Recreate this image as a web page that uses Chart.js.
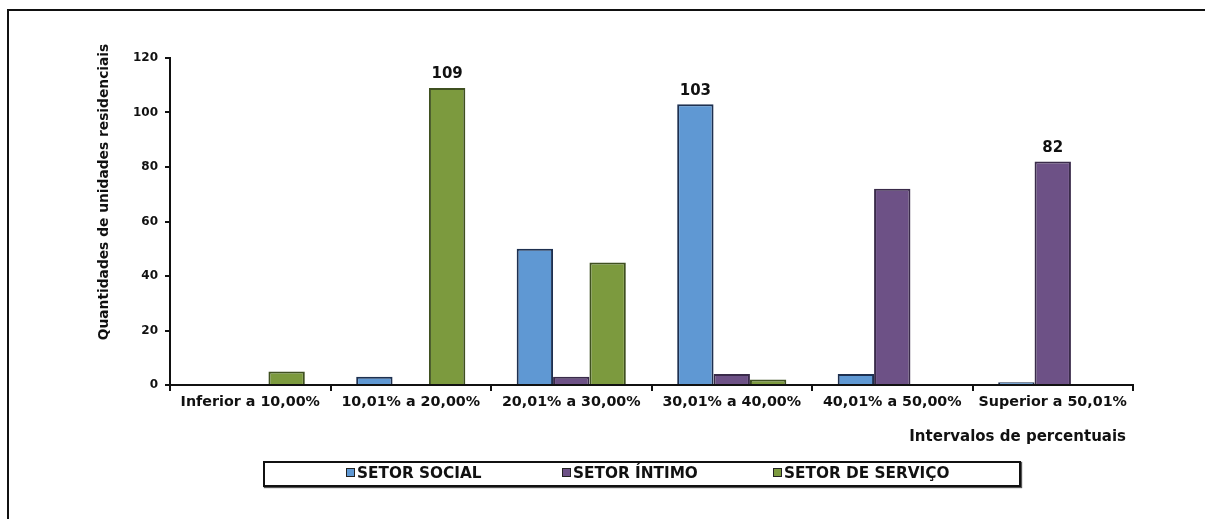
<!DOCTYPE html>
<html>
<head>
<meta charset="utf-8">
<script src="https://cdn.jsdelivr.net/npm/chart.js@4.4.1/dist/chart.umd.min.js"></script>
<style>
html, body { margin: 0; padding: 0; background: #fff; }
#wrap { position: relative; width: 1205px; height: 519px; overflow: hidden; }
#frame {
    position: absolute; left: 7px; top: 9px; width: 1300px; height: 600px;
    border-top: 2px solid #111; border-left: 2px solid #111;
}
#chart { position: absolute; left: 0; top: 0; }
#legend {
    position: absolute; left: 263px; top: 461px; width: 754px; height: 22px;
    border: 2px solid #111; box-shadow: 1px 1px 1px #555;
    font-family: 'DejaVu Sans', sans-serif;
    font-weight: bold; font-size: 15.3px; color: #111;
}
#legend span.item { position: absolute; top: 1px; white-space: nowrap; }
#legend span.box {
    display: inline-block; width: 7px; height: 7px; margin-right: 2px;
    border: 1.5px solid #222; vertical-align: 1px;
}
</style>
</head>
<body>
<div id="wrap">
    <div id="frame"></div>
    <canvas id="chart" width="1205" height="519"></canvas>
    <div id="legend"></div>
</div>
<script>
(function() {
    'use strict';

    // Data
    const categories = ['Inferior a 10,00%', '10,01% a 20,00%', '20,01% a 30,00%',
                        '30,01% a 40,00%', '40,01% a 50,00%', 'Superior a 50,01%'];
    const seriesNames = ['SETOR SOCIAL', 'SETOR ÍNTIMO', 'SETOR DE SERVIÇO'];
    const setorSocial  = [0, 3, 50, 103, 4, 1];
    const setorIntimo  = [0, 0, 3, 4, 72, 82];
    const setorServico = [5, 109, 45, 2, 0, 0];
    const yTicks = [0, 20, 40, 60, 80, 100, 120];

    const fills   = ['#5F98D3', '#6D5186', '#7C9A3E'];
    const borders = ['#1E3050', '#3A2B4A', '#3F5020'];
    const font = "'DejaVu Sans', sans-serif";

    // only the tallest bar of each series gets a label
    const labelPlugin = {
        id: 'maxLabels',
        afterDatasetsDraw(chart) {
            const ctx = chart.ctx;
            ctx.save();
            ctx.font = 'bold 15px ' + font;
            ctx.fillStyle = '#111';
            ctx.textAlign = 'center';
            ctx.textBaseline = 'bottom';
            chart.data.datasets.forEach(function(ds, i) {
                const max = Math.max.apply(null, ds.data);
                const idx = ds.data.indexOf(max);
                const bar = chart.getDatasetMeta(i).data[idx];
                ctx.fillText(String(max), bar.x, bar.y - 6);
            });
            ctx.restore();
        }
    };

    // axis titles
    const titlePlugin = {
        id: 'axisTitles',
        afterDraw(chart) {
            const ctx = chart.ctx;
            ctx.save();
            ctx.fillStyle = '#111';
            ctx.textBaseline = 'middle';
            ctx.font = 'bold 15px ' + font;
            ctx.textAlign = 'right';
            ctx.fillText('Intervalos de percentuais', 1126, 437);
            ctx.translate(104, 192);
            ctx.rotate(-Math.PI / 2);
            ctx.font = 'bold 13.8px ' + font;
            ctx.textAlign = 'center';
            ctx.fillText('Quantidades de unidades residenciais', 0, 0);
            ctx.restore();
        }
    };

    const values = [setorSocial, setorIntimo, setorServico];

    new Chart(document.getElementById('chart'), {
        type: 'bar',
        data: {
            labels: categories,
            datasets: seriesNames.map(function(name, i) {
                return {
                    label: name,
                    data: values[i],
                    backgroundColor: fills[i],
                    borderColor: borders[i],
                    borderWidth: 2,
                    categoryPercentage: 0.68,
                    barPercentage: 1.0
                };
            })
        },
        options: {
            responsive: false,
            animation: false,
            layout: { padding: { left: 20, top: 58, right: 72, bottom: 74 } },
            plugins: {
                legend: { display: false },
                tooltip: { enabled: false }
            },
            scales: {
                x: {
                    afterFit: function(scale) { scale.height = 60; },
                    grid: {
                        offset: true, drawOnChartArea: false, tickLength: 6,
                        color: '#111', lineWidth: 2
                    },
                    border: { color: '#111', width: 2 },
                    ticks: {
                        color: '#111', padding: 3,
                        font: { family: font, weight: 'bold', size: 14.3 }
                    }
                },
                y: {
                    min: 0, max: 120,
                    afterFit: function(scale) { scale.width = 150; },
                    afterBuildTicks: function(scale) {
                        scale.ticks = yTicks.map(function(v) { return { value: v }; });
                    },
                    grid: {
                        drawOnChartArea: false, tickLength: 5,
                        color: '#111', lineWidth: 2
                    },
                    border: { color: '#111', width: 2 },
                    ticks: {
                        color: '#111', padding: 7,
                        font: { family: font, weight: 'bold', size: 12 }
                    }
                }
            }
        },
        plugins: [labelPlugin, titlePlugin]
    });

    // legend box
    const legend = document.getElementById('legend');
    const lefts = [81, 297, 508];
    seriesNames.forEach(function(name, i) {
        const item = document.createElement('span');
        item.className = 'item';
        item.style.left = lefts[i] + 'px';
        const box = document.createElement('span');
        box.className = 'box';
        box.style.background = fills[i];
        item.appendChild(box);
        item.appendChild(document.createTextNode(name));
        legend.appendChild(item);
    });
})();
</script>
</body>
</html>
